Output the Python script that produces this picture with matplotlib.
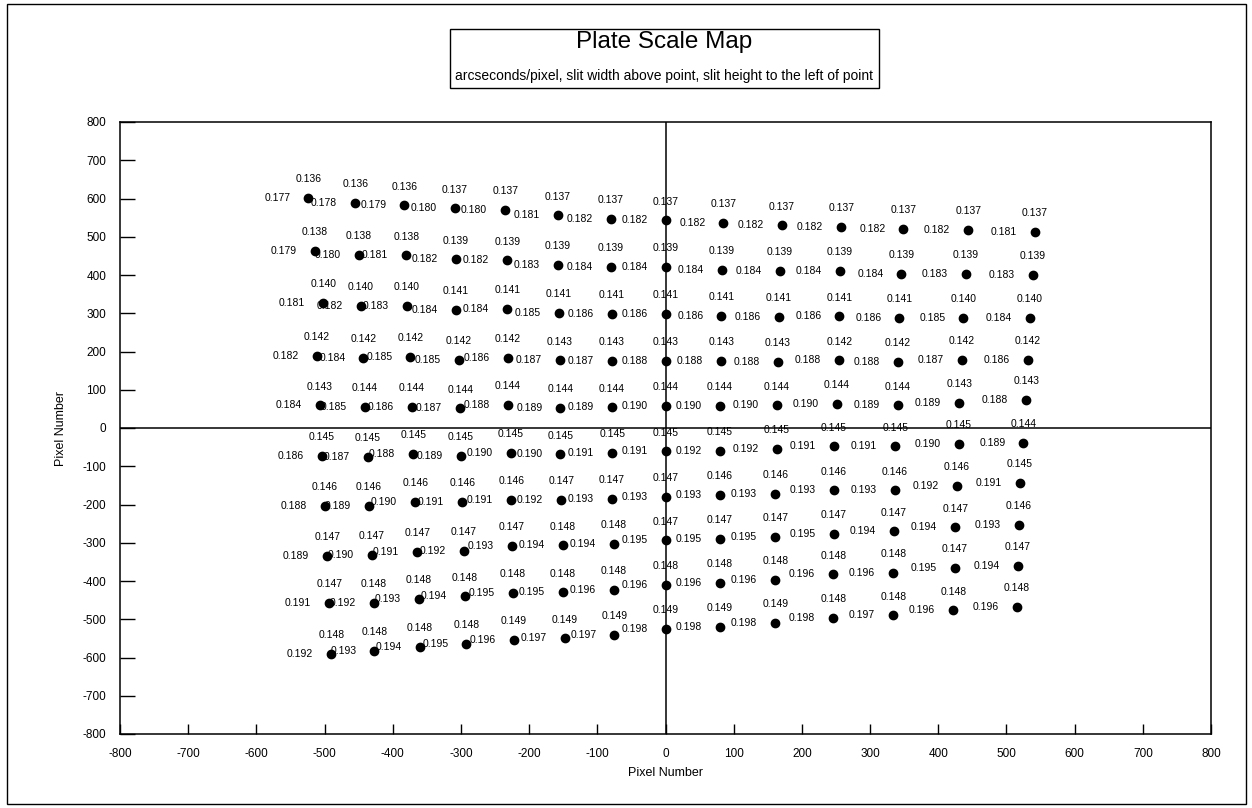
import numpy as np
import matplotlib
matplotlib.use("Agg")
import matplotlib.pyplot as plt
from matplotlib.patches import Rectangle

plt.rcParams['font.family'] = ['Liberation Sans', 'DejaVu Sans']
plt.rcParams['axes.unicode_minus'] = False

# point positions (pixel number), one list per row, top row first
x_rows = [
    [-524, -455, -383, -309, -235, -158, -80, 0, 85, 171, 258, 349, 444, 542],
    [-514, -450, -380, -307, -232, -158, -80, 0, 83, 168, 256, 346, 440, 539],
    [-502, -447, -379, -307, -232, -156, -79, 0, 82, 166, 255, 343, 437, 534],
    [-511, -443, -374, -303, -231, -155, -79, 0, 82, 165, 255, 341, 435, 531],
    [-507, -441, -372, -301, -231, -154, -79, 0, 80, 163, 251, 341, 431, 529],
    [-504, -437, -370, -300, -227, -154, -78, 0, 80, 163, 247, 337, 430, 525],
    [-500, -435, -367, -298, -226, -153, -79, 0, 80, 161, 247, 336, 427, 520],
    [-496, -431, -364, -296, -225, -151, -76, 0, 80, 161, 247, 335, 425, 518],
    [-493, -428, -362, -294, -224, -151, -76, 0, 80, 161, 246, 334, 424, 517],
    [-490, -427, -360, -292, -222, -148, -75, 0, 80, 161, 246, 334, 422, 515],
]
y_rows = [
    [602, 589, 582, 574, 570, 556, 546, 543, 537, 530, 525, 521, 518, 513],
    [464, 453, 451, 441, 438, 427, 421, 421, 414, 410, 410, 403, 403, 401],
    [328, 319, 319, 308, 312, 301, 298, 298, 294, 291, 292, 288, 288, 288],
    [188, 184, 186, 179, 184, 177, 175, 175, 175, 173, 177, 173, 179, 179],
    [59, 55, 55, 51, 60, 53, 54, 57, 57, 59, 63, 59, 66, 73],
    [-72, -76, -68, -72, -65, -69, -65, -61, -59, -55, -48, -48, -41, -39],
    [-203, -203, -194, -194, -187, -187, -185, -180, -174, -172, -163, -163, -152, -143],
    [-334, -331, -324, -321, -309, -307, -303, -294, -289, -285, -276, -270, -260, -253],
    [-457, -457, -447, -440, -431, -430, -423, -410, -404, -397, -383, -379, -365, -360],
    [-590, -582, -572, -565, -553, -550, -540, -525, -520, -510, -497, -490, -477, -467],
]

# slit width (above point), arcsec/pixel
width_rows = [
    [0.136]*3 + [0.137]*11,
    [0.138]*3 + [0.139]*11,
    [0.140]*3 + [0.141]*9 + [0.140]*2,
    [0.142]*5 + [0.143]*5 + [0.142]*4,
    [0.143] + [0.144]*11 + [0.143]*2,
    [0.145]*13 + [0.144],
    [0.146]*5 + [0.147]*3 + [0.146]*5 + [0.145],
    [0.147]*5 + [0.148]*2 + [0.147]*6 + [0.146],
    [0.147] + [0.148]*11 + [0.147]*2,
    [0.148]*4 + [0.149]*6 + [0.148]*4,
]
# slit height (left of point), arcsec/pixel
height_rows = [
    [0.177, 0.178, 0.179, 0.180, 0.180, 0.181, 0.182, 0.182, 0.182, 0.182, 0.182, 0.182, 0.182, 0.181],
    [0.179, 0.180, 0.181, 0.182, 0.182, 0.183, 0.184, 0.184, 0.184, 0.184, 0.184, 0.184, 0.183, 0.183],
    [0.181, 0.182, 0.183, 0.184, 0.184, 0.185, 0.186, 0.186, 0.186, 0.186, 0.186, 0.186, 0.185, 0.184],
    [0.182, 0.184, 0.185, 0.185, 0.186, 0.187, 0.187, 0.188, 0.188, 0.188, 0.188, 0.188, 0.187, 0.186],
    [0.184, 0.185, 0.186, 0.187, 0.188, 0.189, 0.189, 0.190, 0.190, 0.190, 0.190, 0.189, 0.189, 0.188],
    [0.186, 0.187, 0.188, 0.189, 0.190, 0.190, 0.191, 0.191, 0.192, 0.192, 0.191, 0.191, 0.190, 0.189],
    [0.188, 0.189, 0.190, 0.191, 0.191, 0.192, 0.193, 0.193, 0.193, 0.193, 0.193, 0.193, 0.192, 0.191],
    [0.189, 0.190, 0.191, 0.192, 0.193, 0.194, 0.194, 0.195, 0.195, 0.195, 0.195, 0.194, 0.194, 0.193],
    [0.191, 0.192, 0.193, 0.194, 0.195, 0.195, 0.196, 0.196, 0.196, 0.196, 0.196, 0.196, 0.195, 0.194],
    [0.192, 0.193, 0.194, 0.195, 0.196, 0.197, 0.197, 0.198, 0.198, 0.198, 0.198, 0.197, 0.196, 0.196],
]

ticks = np.arange(-800, 801, 100)

fig = plt.figure(figsize=(12.52, 8.08), dpi=100)
ax = fig.add_axes([120/1252, 74/808, 1091/1252, 612/808])

ax.axhline(0, color='black', lw=1.1, zorder=1)
ax.axvline(0, color='black', lw=1.1, zorder=1)

for xs, ys, ws, hs in zip(x_rows, y_rows, width_rows, height_rows):
    ax.plot(xs, ys, 'o', color='black', ms=6, zorder=3)
    for x, y, w, h in zip(xs, ys, ws, hs):
        ax.annotate("%.3f" % w, (x, y), xytext=(0, 13.5), textcoords='offset points',
                    ha='center', va='center', fontsize=7.5)
        ax.annotate("%.3f" % h, (x, y), xytext=(-13, 0), textcoords='offset points',
                    ha='right', va='center', fontsize=7.5)

ax.set_xlim(-800, 800)
ax.set_ylim(-800, 800)
ax.set_xticks(ticks)
ax.set_yticks(ticks)
ax.tick_params(axis='x', direction='in', length=7, width=1, labelsize=8.5, pad=10)
ax.tick_params(axis='y', direction='in', length=11, width=1, labelsize=8.5, pad=10)
for s in ax.spines.values():
    s.set_linewidth(1.1)
ax.set_xlabel("Pixel Number", fontsize=9, labelpad=5)
ax.set_ylabel("Pixel Number", fontsize=9, labelpad=11)

# title box
fig.patches.append(Rectangle((450/1252, 1 - 88/808), 429/1252, 59/808,
                             transform=fig.transFigure, fill=False,
                             edgecolor='black', lw=1))
fig.text(664/1252, 1 - 42/808, "Plate Scale Map", ha='center', va='center', fontsize=17.5)
fig.text(664/1252, 1 - 76/808,
         "arcseconds/pixel, slit width above point, slit height to the left of point",
         ha='center', va='center', fontsize=10)

# outer frame
fig.patches.append(Rectangle((7/1252, 4/808), 1239/1252, 800/808,
                             transform=fig.transFigure, fill=False,
                             edgecolor='black', lw=1))

fig.savefig("out.png", dpi=100)
